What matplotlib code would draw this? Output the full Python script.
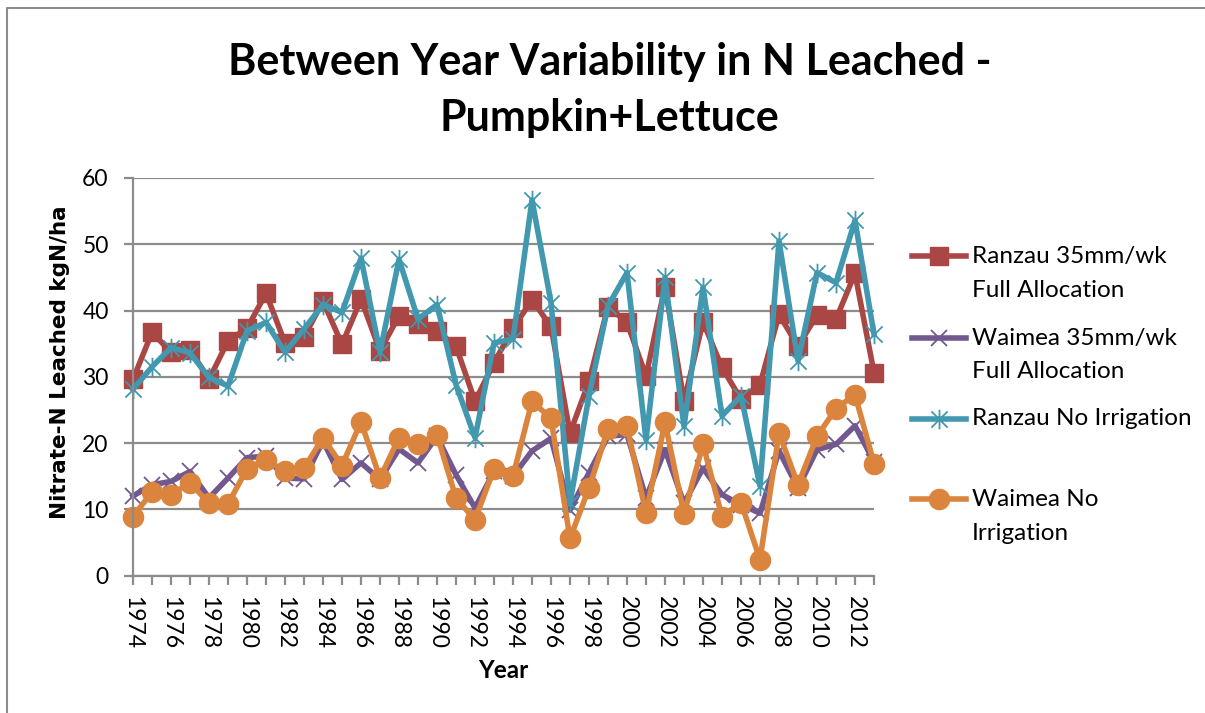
import numpy as np
import matplotlib
matplotlib.use('Agg')
import matplotlib.pyplot as plt
from matplotlib.path import Path
from matplotlib.lines import Line2D

plt.rcParams['font.family'] = ['Lato', 'DejaVu Sans']

years = list(range(1974, 2014))

ranzau_full = [29.6, 36.7, 33.7, 34.1, 29.6, 35.4, 37.3, 42.6, 35.1, 36.0,
               41.4, 34.9, 41.7, 33.9, 39.2, 37.9, 36.9, 34.6, 26.3, 32.1,
               37.3, 41.6, 37.6, 21.5, 29.3, 40.6, 38.2, 30.1, 43.6, 26.3,
               38.3, 31.4, 26.6, 28.8, 39.4, 34.6, 39.3, 38.7, 45.6, 30.6]
waimea_full = [12.0, 13.7, 14.2, 15.7, 11.7, 14.7, 17.8, 18.0, 14.7, 14.6,
               20.3, 14.5, 17.0, 14.5, 19.1, 17.0, 21.0, 15.2, 10.2, 15.7,
               15.0, 18.8, 20.7, 9.9, 15.5, 21.0, 21.3, 11.7, 19.0, 10.9,
               16.2, 12.2, 10.7, 9.4, 18.8, 13.2, 19.0, 19.8, 22.6, 17.2]
ranzau_noirr = [28.1, 31.5, 34.4, 33.6, 29.9, 28.6, 36.9, 38.2, 33.7, 37.2,
                40.9, 39.7, 47.9, 33.7, 47.7, 38.7, 40.9, 28.8, 20.8, 35.1,
                35.7, 56.7, 41.2, 11.0, 27.1, 40.7, 45.7, 20.5, 45.0, 22.5,
                43.5, 24.1, 27.1, 13.5, 50.5, 32.4, 45.7, 44.2, 53.6, 36.4]
waimea_noirr = [8.9, 12.6, 12.2, 14.0, 10.9, 10.8, 16.1, 17.5, 15.7, 16.2,
                20.8, 16.6, 23.2, 14.7, 20.8, 19.9, 21.2, 11.7, 8.4, 16.1,
                15.0, 26.3, 23.7, 5.6, 13.2, 22.1, 22.5, 9.4, 23.1, 9.3,
                19.8, 8.9, 11.0, 2.4, 21.5, 13.7, 21.0, 25.2, 27.3, 16.9]

labels = ['Ranzau 35mm/wk\nFull Allocation',
          'Waimea 35mm/wk\nFull Allocation',
          'Ranzau No Irrigation',
          'Waimea No\nIrrigation']

# star marker like excel: X plus vertical bar
star = Path([(-1, -1), (1, 1), (-1, 1), (1, -1), (0, -1.2), (0, 1.2)],
            [Path.MOVETO, Path.LINETO, Path.MOVETO, Path.LINETO, Path.MOVETO, Path.LINETO])

styles = [
    dict(color='#AA4643', marker='s', ms=13.5, mec='#AA4643', mew=1),
    dict(color='#71588F', marker='x', ms=12, mec='#71588F', mew=1.3),
    dict(color='#4198AF', marker=star, ms=14, mec='#4198AF', mew=1.3),
    dict(color='#DB843D', marker='o', ms=14.5, mec='#DB843D', mew=1),
]
series = [ranzau_full, waimea_full, ranzau_noirr, waimea_noirr]

W, H = 1205, 713
fig = plt.figure(figsize=(W / 100, H / 100), dpi=100)

def fx(x):
    return x / W

def fy(y):
    return 1 - y / H

ax = fig.add_axes([fx(133), fy(575.5), fx(874) - fx(133), fy(178) - fy(575.5)])

for vals, st in zip(series, styles):
    ax.plot(years, vals, lw=4, clip_on=False, solid_joinstyle='round', **st)

grid_c = '#8C8C8C'
ax.set_xlim(1974, 2013)
ax.set_ylim(0, 60)
ax.set_yticks(np.arange(0, 61, 10))
ax.set_xticks(years)
ax.set_xticklabels([str(y) if (y - 1974) % 2 == 0 else '' for y in years], rotation=-90)
ax.yaxis.grid(True, color=grid_c, lw=1.6)
ax.set_axisbelow(True)
for s in ['top', 'right']:
    ax.spines[s].set_visible(False)
for s in ['left', 'bottom']:
    ax.spines[s].set_color(grid_c)
    ax.spines[s].set_linewidth(1.6)
ax.tick_params(axis='both', colors=grid_c, width=1.6, length=6.5, labelcolor='black', labelsize=16.5)
ax.tick_params(axis='y', pad=11)
ax.tick_params(axis='x', pad=8)

fig.text(fx(610), fy(62), 'Between Year Variability in N Leached -', ha='center', va='center',
         fontsize=31, fontweight='bold')
fig.text(fx(609), fy(118), 'Pumpkin+Lettuce', ha='center', va='center',
         fontsize=31, fontweight='bold')
fig.text(fx(60), fy(362), 'Nitrate-N Leached kgN/ha', rotation=90, ha='center', va='center',
         fontsize=15.5, fontweight='bold', family='DejaVu Sans')
fig.text(fx(503), fy(670), 'Year', ha='center', va='center', fontsize=17.5, fontweight='bold')

# legend drawn by hand to mimic excel's layout
leg_y = [256, 338, 419, 499]
for lab, st, y in zip(labels, styles, leg_y):
    fig.add_artist(Line2D([fx(912), fx(966)], [fy(y), fy(y)], lw=4, transform=fig.transFigure, **{k: v for k, v in st.items() if k not in ('marker', 'ms', 'mec', 'mew')}))
    fig.add_artist(Line2D([fx(939)], [fy(y)], transform=fig.transFigure, ls='none', **st))
    for i, line in enumerate(lab.split('\n')):
        fig.text(fx(972), fy(y + i * 34), line, ha='left', va='center', fontsize=17.5)

# outer chart border (left and top)
fig.add_artist(Line2D([fx(7), fx(7), fx(1205)], [fy(713), fy(8), fy(8)], color='#8C8C8C', lw=1.5,
                      transform=fig.transFigure))

fig.savefig('out.png', dpi=100)
